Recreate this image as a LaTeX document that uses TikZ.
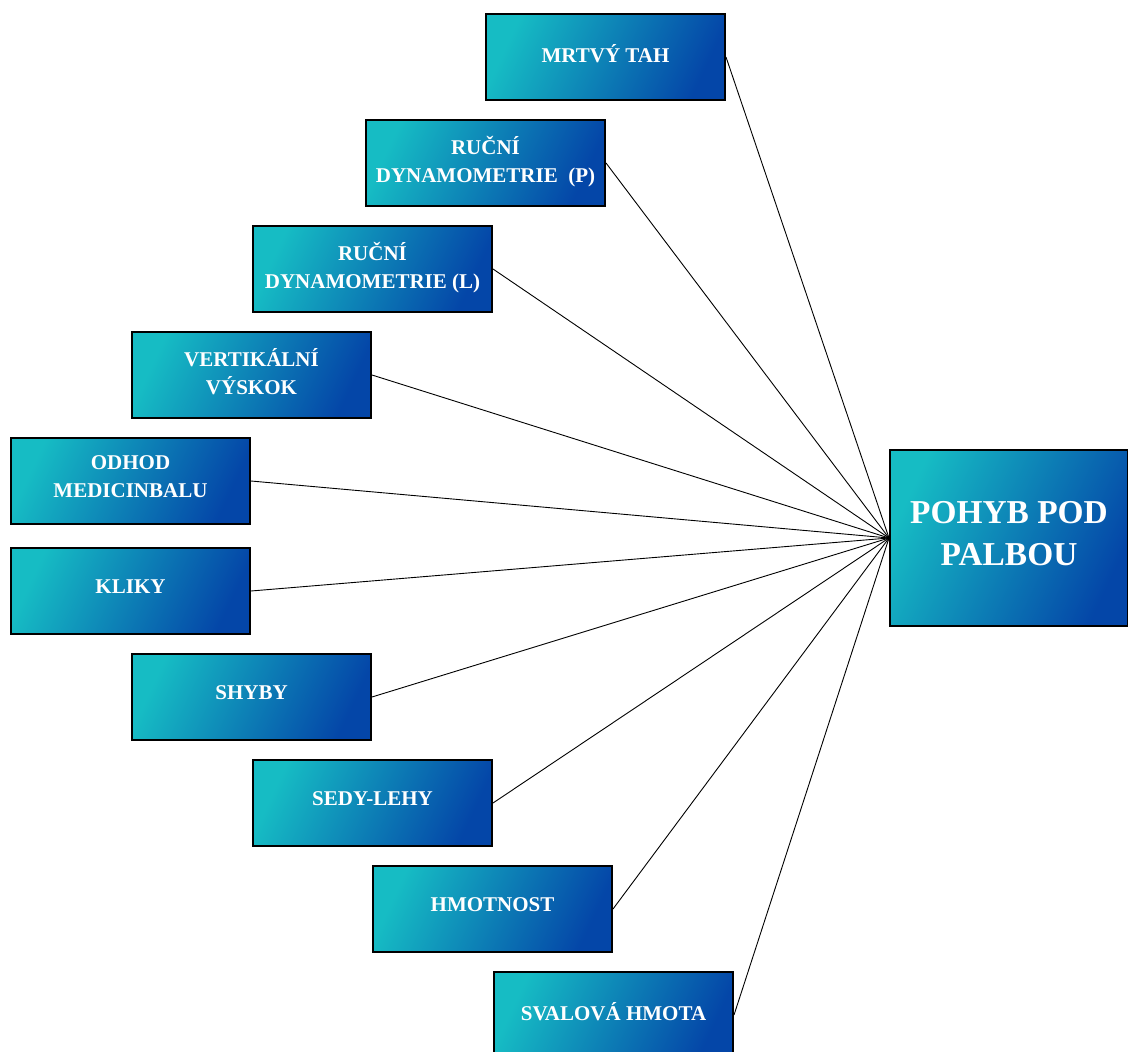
\documentclass[tikz,border=0pt]{standalone}
\usepackage{fontspec}
\setmainfont{Liberation Serif}
\definecolor{boxtl}{RGB}{22,188,196}
\definecolor{boxbr}{RGB}{4,70,168}
\begin{document}
\begin{tikzpicture}[x=1pt,y=-1pt,
  card/.style={draw=black, line width=2pt, minimum width=239pt, minimum height=86pt,
    inner sep=0pt, top color=boxtl, bottom color=boxbr, shading angle=65,
    text=white, align=center, text depth=8pt,
    font=\bfseries\fontsize{21}{28}\selectfont},
  hub/.style={card, minimum width=238pt, minimum height=176pt, text depth=10pt,
    font=\bfseries\fontsize{33.4}{42}\selectfont},
  link/.style={draw=black, line width=0.9pt}]
\path[use as bounding box] (0,0) rectangle (1128,1052);
\clip (0,0) rectangle (1128,1052);

\node[hub]  (target) at (1009,538) {POHYB POD\\PALBOU};

\node[card] (n1)  at (605.5,57)   {MRTVÝ TAH};
\node[card] (n2)  at (485.5,163)  {RUČNÍ\\DYNAMOMETRIE\ \ (P)};
\node[card] (n3)  at (372.5,269)  {RUČNÍ\\DYNAMOMETRIE (L)};
\node[card] (n4)  at (251.5,375)  {VERTIKÁLNÍ\\VÝSKOK};
\node[card] (n5)  at (130.5,481)  {ODHOD\\MEDICINBALU};
\node[card] (n6)  at (130.5,591)  {KLIKY};
\node[card] (n7)  at (251.5,697)  {SHYBY};
\node[card] (n8)  at (372.5,803)  {SEDY-LEHY};
\node[card] (n9)  at (492.5,909)  {HMOTNOST};
\node[card] (n10) at (613.5,1015) {SVALOVÁ HMOTA};

\foreach \n in {n1,n2,n3,n4,n5,n6,n7,n8,n9,n10}
  \draw[link] (\n.east) -- (target.west);
\end{tikzpicture}
\end{document}
